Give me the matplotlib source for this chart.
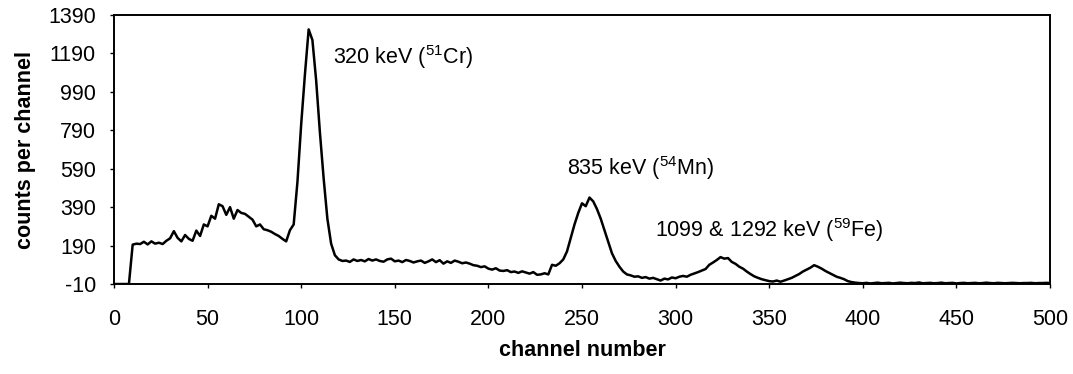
# gamma spectrum, counts per channel
import numpy as np
import matplotlib.pyplot as plt

plt.rcParams['font.family'] = ['Liberation Sans', 'DejaVu Sans']
plt.rcParams['mathtext.fontset'] = 'custom'
plt.rcParams['mathtext.rm'] = 'Liberation Sans'
plt.rcParams['axes.unicode_minus'] = False

# channel numbers (every 2nd channel) and counts
channels = np.arange(0, 502, 2)
counts = [
    -10, -10, -10, -10, -10, 195, 200, 198, 210, 196,
    212, 200, 205, 198, 215, 228, 265, 230, 212, 245,
    225, 215, 268, 240, 300, 290, 345, 330, 405, 395,
    350, 390, 330, 375, 360, 355, 340, 325, 290, 300,
    275, 270, 262, 250, 240, 225, 212, 270, 300, 520,
    820, 1080, 1315, 1260, 1050, 780, 540, 330, 200, 140,
    118, 110, 112, 105, 118, 110, 115, 108, 120, 112,
    118, 110, 106, 118, 122, 108, 112, 104, 115, 110,
    102, 108, 112, 100, 108, 118, 104, 114, 96, 108,
    100, 112, 106, 98, 102, 96, 88, 85, 78, 82,
    70, 65, 72, 60, 58, 62, 52, 55, 48, 56,
    50, 44, 52, 38, 40, 46, 40, 90, 85, 98,
    118, 160, 230, 300, 360, 410, 395, 440, 420, 380,
    330, 270, 210, 150, 110, 80, 55, 40, 35, 28,
    30, 22, 26, 18, 22, 15, 8, 18, 14, 24,
    20, 28, 32, 28, 38, 45, 52, 60, 68, 90,
    102, 115, 130, 122, 125, 105, 95, 80, 70, 55,
    42, 30, 22, 15, 10, 5, 3, 8, 2, 8,
    15, 22, 32, 42, 55, 65, 75, 88, 80, 70,
    58, 48, 38, 28, 22, 15, 5, 0, -3, -5,
    -6, -4, -7, -5, -3, -6, -5, -4, -7, -5,
    -3, -5, -6, -4, -5, -2, -6, -5, -4, -6,
    -5, -3, -6, -5, -4, -7, -5, -4, -6, -5,
    -4, -6, -5, -3, -5, -6, -4, -5, -6, -5,
    -4, -5, -6, -5, -5, -4, -6, -5, -5, -4,
    -5,
]

yticks = [-10, 190, 390, 590, 790, 990, 1190, 1390]
xticks = [0, 50, 100, 150, 200, 250, 300, 350, 400, 450, 500]

fig = plt.figure(figsize=(10.73, 3.74), dpi=100)
ax = fig.add_axes([0.1062, 0.2406, 0.8724, 0.7193])

ax.plot(channels, counts, color='black', lw=1.8)

ax.set_xlim(0, 500)
ax.set_ylim(-10, 1390)
ax.set_xticks(xticks)
ax.set_yticks(yticks)
ax.tick_params(axis='both', labelsize=15.5, direction='out', length=3, width=1)
ax.tick_params(axis='x', pad=15)
ax.tick_params(axis='y', pad=10)
for sp in ax.spines.values():
    sp.set_linewidth(1.4)
    sp.set_color('black')

ax.set_xlabel('channel number', fontsize=15.5, fontweight='bold', labelpad=7)
ax.set_ylabel('counts per channel', fontsize=15.5, fontweight='bold', labelpad=9)

ax.text(117, 1172, r'320 keV ($^{\mathregular{51}}$Cr)', fontsize=15.5, va='center')
ax.text(242, 594, r'835 keV ($^{\mathregular{54}}$Mn)', fontsize=15.5, va='center')
ax.text(289, 271, r'1099 & 1292 keV ($^{\mathregular{59}}$Fe)', fontsize=15.5, va='center')

fig.savefig('out.png', dpi=100)
